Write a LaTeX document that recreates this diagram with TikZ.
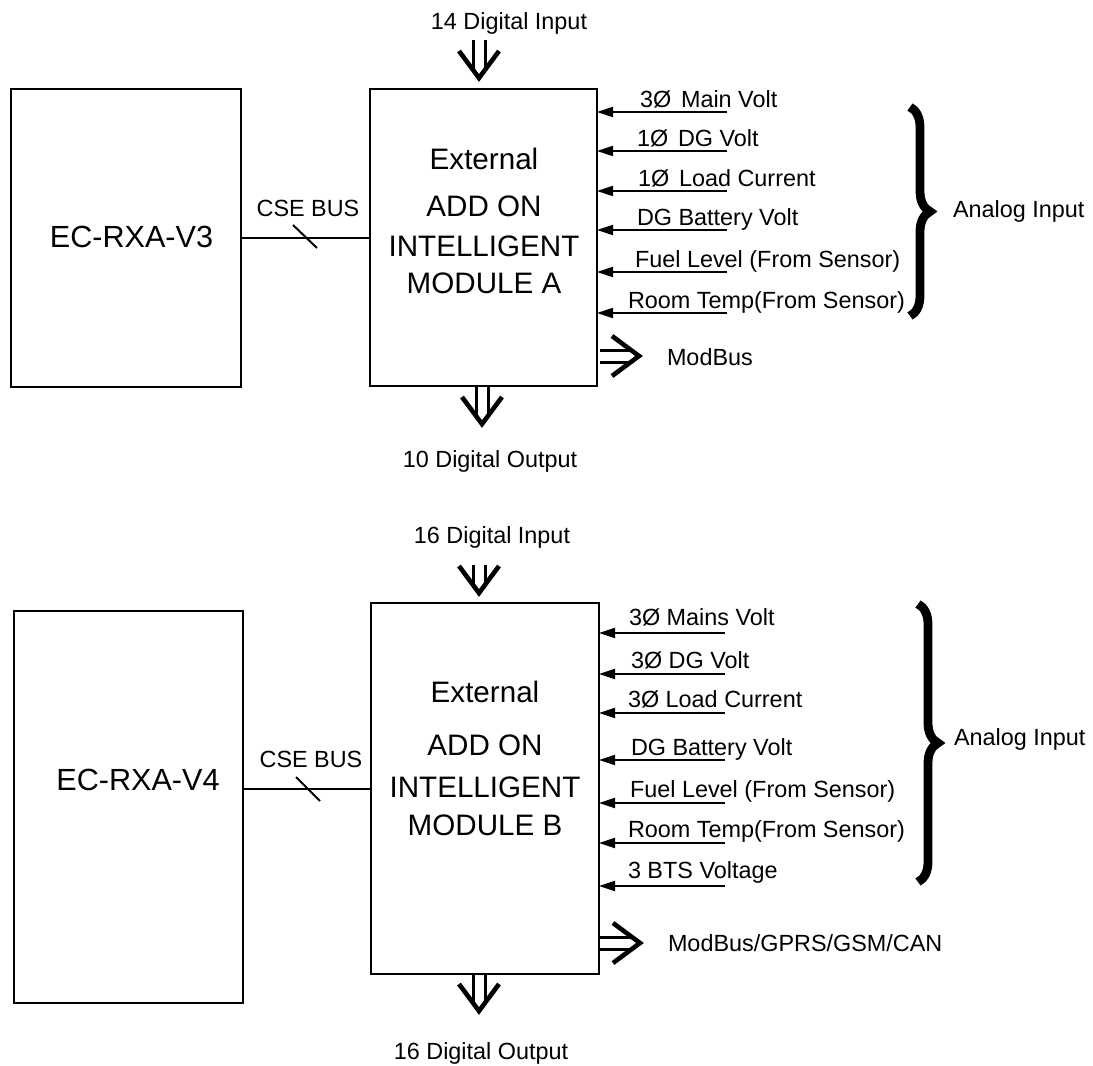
\documentclass[tikz,border=0pt]{standalone}
\usepackage{fontspec}
\setmainfont{Liberation Sans}
\usetikzlibrary{arrows.meta,decorations.pathreplacing}
\begin{document}
\begin{tikzpicture}[x=0.5pt,y=-0.5pt,
  box/.style={draw, line width=1.2pt, inner sep=0pt, outer sep=0pt},
  lbl/.style={font=\fontsize{11.7}{14}\selectfont, inner sep=0pt, outer sep=0pt},
  modtxt/.style={font=\fontsize{14.8}{18}\selectfont, inner sep=0pt, anchor=base},
  ectxt/.style={font=\fontsize{15.3}{18}\selectfont, inner sep=0pt, anchor=base},
  inarrow/.style={line width=1pt, -{Triangle[length=8pt,width=5pt]}},
  busline/.style={line width=1pt},
  dbl/.style={line width=1.5pt},
  vhead/.style={line width=2.3pt, line join=miter},
  brc/.style={decorate, decoration={brace, amplitude=10pt}, line width=4.4pt},
  pics/dblarrow/.style={code={
    \draw[dbl] (-6,-#1) -- (-6,-8) (6,-#1) -- (6,-8);
    \draw[vhead] (-20,-27) -- (0,0) -- (20,-27);
  }}
]
\useasboundingbox (0,0) rectangle (1093,1066);

% ================= TOP: MODULE A =================
\node[box, minimum width=115pt, minimum height=149pt] (ecA) at (126,238) {};
\node[ectxt] (ecAt) at (131.5,247) {EC-RXA-V3};
\node[box, minimum width=113.5pt, minimum height=148.5pt] (modA) at (483.5,237.5) {};
\node[modtxt] (mA1) at (484,169) {External};
\node[modtxt] (mA2) at (484,216) {ADD ON};
\node[modtxt] (mA3) at (484,256) {INTELLIGENT};
\node[modtxt] (mA4) at (484,293) {MODULE A};

% CSE bus
\draw[busline] (ecA.east |- 0,238) -- (modA.west |- 0,238);
\coordinate (sA1) at (293,225);
\coordinate (sA2) at (317,248);
\draw[busline] (sA1) -- (sA2);
\node[lbl, anchor=base] (cseA) at (308,216) {CSE BUS};

% digital in / out
\node[lbl, anchor=base] (dinA) at (509,29) {14 Digital Input};
\pic at (479,78) {dblarrow=38};
\pic at (482,424) {dblarrow=39};
\node[lbl, anchor=base] (doutA) at (490,467) {10 Digital Output};

% modbus
\pic[rotate=90] at (639,356) {dblarrow=39};
\node[lbl, anchor=base west] (mbA) at (667,365) {ModBus};

% analog inputs
\foreach \y/\x/\t [count=\i] in {
  112/640/{3Ø\hspace{0.42em}Main Volt},
  151/637/{1Ø\hspace{0.42em}DG Volt},
  191/638/{1Ø\hspace{0.42em}Load Current},
  230/637/{DG Battery Volt},
  272/635/{Fuel Level (From Sensor)},
  313/628/{Room Temp(From Sensor)}}{
  \coordinate (aA\i) at (727,\y);
  \draw[inarrow] (aA\i) -- (aA\i -| modA.east);
  \node[lbl, anchor=base west] (tA\i) at (\x,\y-5) {\t};
}
\draw[brc] (910,107) -- (910,316);
\node[lbl, anchor=base west] (anA) at (953,217) {Analog Input};

% ================= BOTTOM: MODULE B =================
\node[box, minimum width=114.5pt, minimum height=196pt] (ecB) at (128.5,807) {};
\node[ectxt] (ecBt) at (138,790) {EC-RXA-V4};
\node[box, minimum width=114pt, minimum height=185.5pt] (modB) at (485,788.5) {};
\node[modtxt] (mB1) at (485,702) {External};
\node[modtxt] (mB2) at (485,755) {ADD ON};
\node[modtxt] (mB3) at (485,797) {INTELLIGENT};
\node[modtxt] (mB4) at (485,835) {MODULE B};

% CSE bus
\draw[busline] (ecB.east |- 0,789) -- (modB.west |- 0,789);
\coordinate (sB1) at (296,777);
\coordinate (sB2) at (320,801);
\draw[busline] (sB1) -- (sB2);
\node[lbl, anchor=base] (cseB) at (311,767) {CSE BUS};

% digital in / out
\node[lbl, anchor=base] (dinB) at (492,543) {16 Digital Input};
\pic at (479,593) {dblarrow=28};
\pic at (479,1011) {dblarrow=37};
\node[lbl, anchor=base] (doutB) at (481,1059) {16 Digital Output};

% modbus
\pic[rotate=90] at (640,943) {dblarrow=41};
\node[lbl, anchor=base west] (mbB) at (668,951) {ModBus/GPRS/GSM/CAN};

% analog inputs
\foreach \y/\x/\d/\t [count=\i] in {
  633/629/8/{3Ø Mains Volt},
  674/631/6/{3Ø DG Volt},
  713/628/6/{3Ø Load Current},
  760/631/5/{DG Battery Volt},
  803/630/6/{Fuel Level (From Sensor)},
  843/628/6/{Room Temp(From Sensor)},
  886/628/8/{3 BTS Voltage}}{
  \coordinate (aB\i) at (725,\y);
  \draw[inarrow] (aB\i) -- (aB\i -| modB.east);
  \node[lbl, anchor=base west] (tB\i) at (\x,\y-\d) {\t};
}
\draw[brc] (918,604) -- (918,882);
\node[lbl, anchor=base west] (anB) at (954,745) {Analog Input};
\end{tikzpicture}
\end{document}
